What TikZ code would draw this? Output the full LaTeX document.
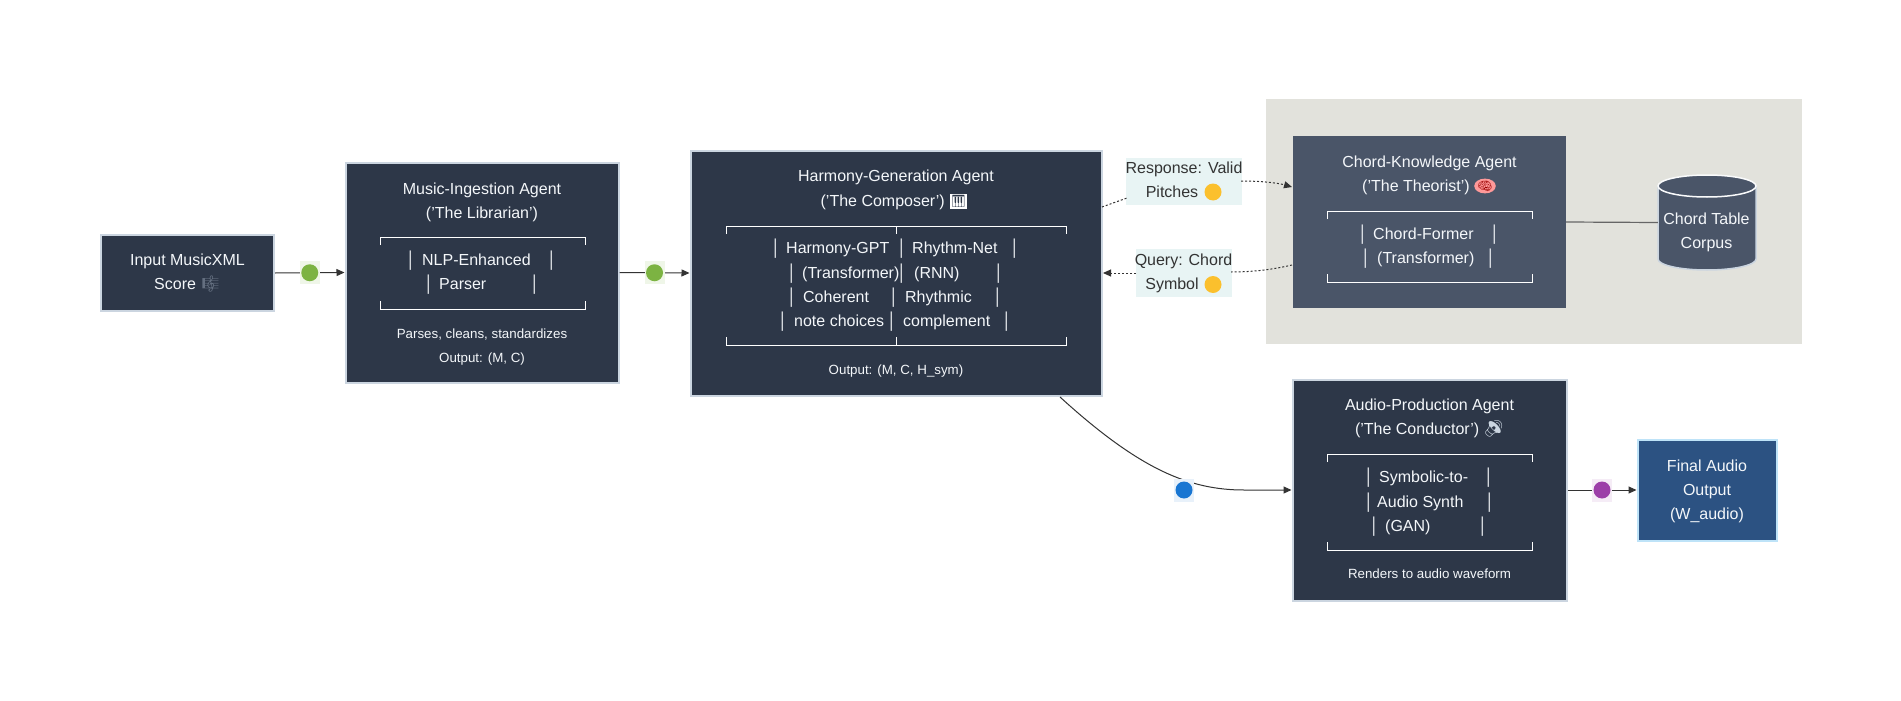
\documentclass[tikz,border=0pt]{standalone}
\usepackage{fontspec}
\setmainfont{Liberation Sans}
\newfontfamily\emo{Noto Emoji}
\usetikzlibrary{arrows.meta,shapes.geometric}
\definecolor{darkbox}{HTML}{2D3748}
\definecolor{slatebox}{HTML}{4A5568}
\definecolor{boxline}{HTML}{CBD5E0}
\definecolor{clusterbg}{HTML}{E2E2DC}
\definecolor{finalbox}{HTML}{2C5282}
\definecolor{finalline}{HTML}{BEE3F8}
\definecolor{edgecol}{HTML}{333333}
\definecolor{txtcol}{HTML}{F4F7FA}
\definecolor{lblbg}{HTML}{E8F4F4}
\definecolor{eyellow}{HTML}{FBC02D}
\definecolor{egreen}{HTML}{7CB342}
\definecolor{eblue}{HTML}{1976D2}
\definecolor{epurple}{HTML}{9C3FA8}
\newcommand\rpipe{\makebox[0pt]{│}}
\newcommand\rcell[3]{\makebox[#1pt][l]{\rpipe\hspace{#2pt}#3}}
\newcommand\brk[4]{%
  \draw[brk] (#1,#3+8) -- (#1,#3) -- (#2,#3) -- (#2,#3+8);
  \draw[brk] (#1,#4-8) -- (#1,#4) -- (#2,#4) -- (#2,#4-8);}
\tikzset{
  box/.style={rectangle,fill=darkbox,draw=boxline,line width=2pt,inner sep=0pt},
  txt/.style={anchor=base,inner sep=0pt,text=txtcol,font=\fontsize{16}{20}\selectfont},
  sml/.style={txt,font=\fontsize{13.33}{16}\selectfont},
  rowt/.style={anchor=base west,inner sep=0pt,text=txtcol,font=\fontsize{16}{20}\selectfont},
  lbl/.style={anchor=base,inner sep=0pt,text=edgecol,font=\fontsize{16}{20}\selectfont},
  brk/.style={draw=white,line width=1pt},
  edge/.style={draw=edgecol,line width=1pt,-{Triangle[length=8pt,width=7pt]}},
  dot/.style={draw=edgecol,line width=1pt,dash pattern=on 2pt off 2pt},
  dotarrow/.style={dot,-{Triangle[length=8pt,width=7pt]}},
  tag/.style={rectangle,inner sep=0pt,minimum width=20pt,minimum height=23pt},
  emodot/.style={circle,inner sep=0pt,minimum size=17pt,fill=#1,text=#1,font=\emo\fontsize{10}{11}\selectfont},
  glyph/.style={inner sep=0pt,font=\emo\fontsize{12}{14}\selectfont},
  lblbox/.style={rectangle,fill=lblbg,inner sep=0pt},
}
\begin{document}
\begin{tikzpicture}[x=1pt,y=-1pt]
\useasboundingbox (0,0) rectangle (1901,701);
\fill[white] (0,0) rectangle (1901,701);

% cluster and boxes
\node[rectangle,fill=clusterbg,minimum width=536pt,minimum height=245pt,inner sep=0pt] (cluster) at (1534,221.5) {};
\node[box,minimum width=173pt,minimum height=76pt] (input) at (187.5,273) {};
\node[box,minimum width=273pt,minimum height=220pt] (lib) at (482,272.5) {};
\node[box,minimum width=411pt,minimum height=245pt] (comp) at (896,273) {};
\node[rectangle,fill=slatebox,minimum width=273pt,minimum height=172pt,inner sep=0pt] (theo) at (1429.5,222) {};
\node[box,minimum width=274pt,minimum height=221pt] (cond) at (1429.5,490) {};
\node[box,fill=finalbox,draw=finalline,minimum width=139pt,minimum height=101pt] (final) at (1707,490) {};

% database cylinder
\node[inner sep=0pt,minimum width=98pt,minimum height=95pt] (db) at (1707,222.5) {};
\draw[fill=slatebox,draw=boxline,line width=1.5pt] (1658,186) -- (1658,259) arc[start angle=180,end angle=360,x radius=49pt,y radius=11pt] -- (1756,186);
\draw[fill=slatebox,draw=white!90!boxline,line width=1.5pt] (1658,186) arc[start angle=180,end angle=540,x radius=49pt,y radius=11pt];

% edge labels (text boxes)
\node[lblbox,minimum width=116pt,minimum height=47pt] (resp) at (1184,181.5) {};
\node[lblbox,minimum width=96pt,minimum height=48pt] (query) at (1183.5,273) {};
\node[lbl] (resp1) at (1184,173.5) {Response: Valid};
\node[lbl] (resp2) at (1172,197.5) {Pitches};
\node[emodot=eyellow] (resp3) at (1213,192) {🟡};
\node[lbl] (query1) at (1183.5,265.5) {Query: Chord};
\node[lbl] (query2) at (1172,289.5) {Symbol};
\node[emodot=eyellow] (query3) at (1213,284.5) {🟡};

% connectors
\coordinate (respstart) at (1102,207);
\coordinate (respin) at (1127,198);
\coordinate (respout) at (1241,181);
\coordinate (theoin) at (1292,187);
\coordinate (queryout) at (1292,265);
\coordinate (queryin) at (1231,272);
\coordinate (queryleft) at (1136,273);
\coordinate (compq) at (1103,273);
\coordinate (compb) at (1060,397);
\coordinate (condb) at (1244,490);
\draw[edge] (input.east) -- node[tag,fill=egreen!12] (tg1) {} (lib.west);
\draw[edge] (lib.east) -- node[tag,fill=egreen!12] (tg2) {} (comp.west);
\draw[edge] (cond.east) -- node[tag,fill=epurple!10] (tg4) {} (final.west);
\draw[dot] (respstart) -- (respin);
\draw[dotarrow] (respout) .. controls (1262,181) and (1278,183) .. (theoin);
\draw[dot] (queryout) .. controls (1275,269) and (1255,272) .. (queryin);
\draw[dotarrow] (queryleft) -- (compq);
\draw[draw=edgecol!75!white,line width=1.2pt] (theo.east) -- (db.west);
\draw[edge] (compb) .. controls (1140,470) and (1190,490) .. (condb) -- (cond.west);
\node[tag,fill=eblue!10] (tg3) at (1184,490) {};
\node[emodot=egreen] (tg1e) at (tg1) {🟢};
\node[emodot=egreen] (tg2e) at (tg2) {🟢};
\node[emodot=eblue] (tg3e) at (tg3) {🔵};
\node[emodot=epurple] (tg4e) at (tg4) {🟣};

% input
\node[txt] (i1) at (187.5,265.5) {Input MusicXML};
\node[txt] (i2) at (187.5,289.5) {Score {\emo\textcolor{slatebox!80!boxline}{🎼}}};

% librarian
\node[txt] (l1) at (482,194) {Music-Ingestion Agent};
\node[txt] (l2) at (482,218.5) {('The Librarian')};
\brk{380}{585}{237}{309}
\node[rowt] (l3) at (411,265.5) {\rcell{141}{11}{NLP-Enhanced}\rpipe};
\node[rowt] (l4) at (429,289.5) {\rcell{106}{10}{Parser}\rpipe};
\node[sml] (l5) at (482,338.5) {Parses, cleans, standardizes};
\node[sml] (l6) at (482,362.5) {Output: (M, C)};

% composer
\node[txt] (c1) at (896,181.5) {Harmony-Generation Agent};
\node[txt,anchor=base east] (c2) at (945,206.5) {('The Composer')};
\node[glyph,fill=white,text=darkbox,minimum width=17pt,minimum height=15pt] (c2e) at (958.5,201) {🎹};
\brk{726}{1066}{226}{345}
\draw[brk] (896,226) -- (896,234) (896,345) -- (896,337);
\node[rowt] (c3) at (776,253.5) {\rcell{126}{10}{Harmony-GPT}\rcell{113}{10}{Rhythm-Net}\rpipe};
\node[rowt] (c4) at (792,278.5) {\rcell{110}{10}{(Transformer)}\rcell{97}{12}{(RNN)}\rpipe};
\node[rowt] (c5) at (792,302.5) {\rcell{102}{11}{Coherent}\rcell{104}{11}{Rhythmic}\rpipe};
\node[rowt] (c6) at (783,326.5) {\rcell{109}{11}{note choices}\rcell{115}{11}{complement}\rpipe};
\node[sml] (c7) at (896,374.5) {Output: (M, C, H\_sym)};

% theorist
\node[txt] (t1) at (1429.5,167.5) {Chord-Knowledge Agent};
\node[txt,anchor=base east] (t2) at (1470,191.5) {('The Theorist')};
\node[glyph,ellipse,fill=red!40!white,text=red!60!black,minimum width=15pt,minimum height=14pt] (t2e) at (1485,186) {🧠};
\brk{1327}{1532}{211}{282}
\node[rowt] (t3) at (1363,239.5) {\rcell{132}{10}{Chord-Former}\rpipe};
\node[rowt] (t4) at (1366,263.5) {\rcell{125}{11}{(Transformer)}\rpipe};
\node[txt] (d1) at (1706.5,224.5) {Chord Table};
\node[txt] (d2) at (1706.5,248.5) {Corpus};

% conductor
\node[txt] (a1) at (1429.5,410.5) {Audio-Production Agent};
\node[txt] (a2) at (1429.5,434.5) {('The Conductor') {\emo\textcolor{boxline}{🔊}}};
\brk{1327}{1532}{454}{550}
\node[rowt] (a3) at (1369,482.5) {\rcell{120}{10}{Symbolic-to-}\rpipe};
\node[rowt] (a4) at (1369,507.5) {\rcell{121}{8}{Audio Synth}\rpipe};
\node[rowt] (a5) at (1374.5,531.5) {\rcell{108.5}{10.5}{(GAN)}\rpipe};
\node[sml] (a6) at (1429.5,578.5) {Renders to audio waveform};

% final
\node[txt] (f1) at (1707,471.5) {Final Audio};
\node[txt] (f2) at (1707,495.5) {Output};
\node[txt] (f3) at (1707,519.5) {(W\_audio)};
\end{tikzpicture}
\end{document}
